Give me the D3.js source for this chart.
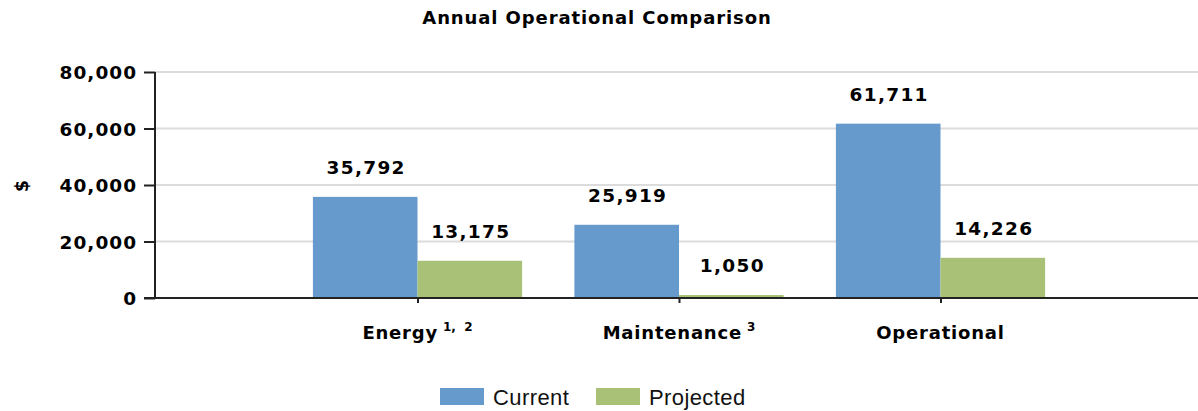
<!DOCTYPE html>
<html>
<head>
<meta charset="utf-8">
<script src="https://cdn.jsdelivr.net/npm/d3@7"></script>
<style>
  html, body { margin: 0; padding: 0; background: #fff; }
  svg { display: block; }
</style>
</head>
<body>
<svg id="chart" width="1198" height="411"></svg>
<script>
const categories = ["Energy", "Maintenance", "Operational"];
const categorySup = ["1,  2", "3", ""];
const seriesNames = ["Current", "Projected"];
const currentValues = [35792, 25919, 61711];
const projectedValues = [13175, 1050, 14226];
const yTicks = [0, 20000, 40000, 60000, 80000];
const colors = ["#6699cc", "#a9c077"];
const title = "Annual Operational Comparison";
const yLabel = "$";

(function () {
const svg = d3.select("#chart");
const W = 1198;
const plotLeft = 155, plotTop = 72, plotBottom = 298;

const x = d3.scalePoint().domain(categories).range([156, 1202]).padding(1);
const barW = x.step() * 0.4;
const y = d3.scaleLinear().domain([0, 80000]).range([plotBottom, plotTop]);
const fmt = d3.format(",");
const boldFont = "'DejaVu Sans', Verdana, sans-serif";

// title
svg.append("text").attr("x", 597).attr("y", 24).attr("text-anchor", "middle")
  .attr("font-family", boldFont).attr("font-weight", "bold").attr("font-size", 18)
  .attr("letter-spacing", 0.9).attr("fill", "#000").text(title);

// gridlines
svg.append("g").selectAll("line").data(yTicks.filter(d => d > 0)).join("line")
  .attr("x1", plotLeft).attr("x2", W).attr("y1", d => y(d)).attr("y2", d => y(d))
  .attr("stroke", "#dcdcdc").attr("stroke-width", 2);

// y axis
const yAxis = svg.append("g").attr("transform", `translate(${plotLeft},0)`)
  .call(d3.axisLeft(y).tickValues(yTicks).tickFormat(fmt).tickSize(11).tickPadding(7));
yAxis.select(".domain").attr("stroke", "#222").attr("stroke-width", 2).attr("d", `M0,${plotTop}V${plotBottom}`);
yAxis.selectAll(".tick line").attr("stroke", "#222").attr("stroke-width", 2);
yAxis.selectAll(".tick text").attr("font-family", boldFont).attr("font-weight", "bold")
  .attr("font-size", 18.5).attr("letter-spacing", 1).attr("fill", "#000").attr("dy", "0.36em");

// y label
svg.append("text").attr("transform", `translate(28,186) rotate(-90)`).attr("text-anchor", "middle")
  .attr("font-family", boldFont).attr("font-weight", "bold").attr("font-size", 17).text(yLabel);

// bars
const rows = categories.map((c, i) => ({ c, vals: [currentValues[i], projectedValues[i]] }));
const groups = svg.append("g").selectAll("g").data(rows).join("g");
groups.selectAll("rect").data(d => d.vals.map((v, j) => ({ c: d.c, v, j }))).join("rect")
  .attr("x", d => x(d.c) + (d.j - 1) * barW)
  .attr("width", barW)
  .attr("y", d => y(d.v))
  .attr("height", d => y(0) - y(d.v))
  .attr("fill", d => colors[d.j]);
groups.selectAll("text").data(d => d.vals.map((v, j) => ({ c: d.c, v, j }))).join("text")
  .attr("x", d => x(d.c) + (d.j - 0.5) * barW + 1)
  .attr("y", d => y(d.v) - 23)
  .attr("text-anchor", "middle")
  .attr("font-family", boldFont).attr("font-weight", "bold").attr("font-size", 18.5)
  .attr("letter-spacing", 1.3).attr("fill", "#000").text(d => fmt(d.v));

// x axis
const xAxis = svg.append("g").attr("transform", `translate(0,${plotBottom})`)
  .call(d3.axisBottom(x).tickSize(5).tickFormat(""));
xAxis.select(".domain").attr("stroke", "#222").attr("stroke-width", 2).attr("d", `M144,0H${W}`);
xAxis.selectAll(".tick line").attr("stroke", "#222").attr("stroke-width", 2);

// category labels
const catText = svg.append("g").selectAll("text").data(categories).join("text")
  .attr("x", d => x(d)).attr("y", 339).attr("text-anchor", "middle")
  .attr("font-family", boldFont).attr("font-weight", "bold").attr("font-size", 18).attr("fill", "#000")
  .style("white-space", "pre");
catText.append("tspan").attr("letter-spacing", 0.8).text(d => d);
catText.filter((d, i) => categorySup[i]).append("tspan")
  .attr("dx", 5).attr("dy", -8).attr("font-size", 12)
  .text(d => categorySup[categories.indexOf(d)]);

// legend
const legendX = [440, 596];
const lg = svg.append("g").selectAll("g").data(seriesNames).join("g")
  .attr("transform", (d, i) => `translate(${legendX[i]},388)`);
lg.append("rect").attr("width", 44).attr("height", 17).attr("fill", (d, i) => colors[i]);
lg.append("text").attr("x", 53).attr("y", 17).attr("font-family", "'Liberation Sans', Arial, sans-serif")
  .attr("font-size", 22).attr("letter-spacing", 0.4).attr("fill", "#111").text(d => d);
})();
</script>
</body>
</html>
